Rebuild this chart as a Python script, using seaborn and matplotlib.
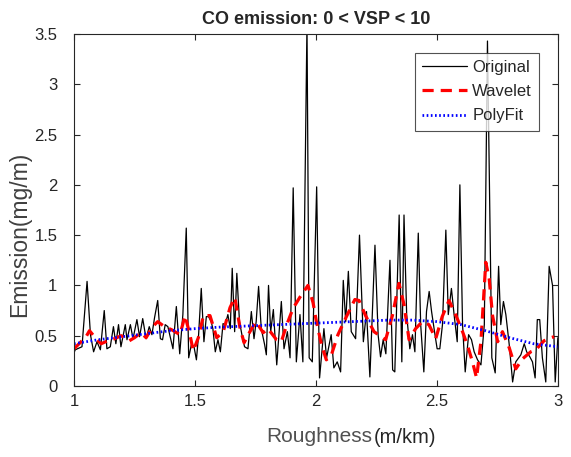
import numpy as np
import pandas as pd
import matplotlib
matplotlib.use("Agg")
import matplotlib.pyplot as plt
import seaborn as sns

# Original (raw) emission vs roughness
rough_x = [1.000, 1.005, 1.033, 1.054, 1.068, 1.081, 1.095, 1.109, 1.125, 1.136, 1.150, 1.163, 1.173,
           1.184, 1.194, 1.212, 1.219, 1.233, 1.244, 1.260, 1.271, 1.284, 1.298, 1.311, 1.322, 1.333,
           1.346, 1.357, 1.366, 1.377, 1.388, 1.409, 1.423, 1.437, 1.450, 1.464, 1.474, 1.485, 1.496,
           1.506, 1.515, 1.526, 1.537, 1.547, 1.556, 1.567, 1.574, 1.584, 1.595, 1.605, 1.616, 1.625,
           1.636, 1.646, 1.654, 1.664, 1.673, 1.684, 1.694, 1.705, 1.719, 1.733, 1.744, 1.753, 1.763,
           1.774, 1.788, 1.795, 1.804, 1.813, 1.824, 1.838, 1.857, 1.868, 1.882, 1.893, 1.906, 1.919,
           1.934, 1.946, 1.963, 1.972, 1.985, 2.003, 2.015, 2.033, 2.044, 2.063, 2.074, 2.088, 2.102,
           2.113, 2.123, 2.134, 2.146, 2.164, 2.180, 2.196, 2.209, 2.223, 2.244, 2.257, 2.267, 2.278,
           2.289, 2.306, 2.317, 2.326, 2.344, 2.355, 2.364, 2.375, 2.388, 2.399, 2.409, 2.423, 2.433,
           2.446, 2.457, 2.468, 2.478, 2.492, 2.501, 2.512, 2.523, 2.537, 2.547, 2.560, 2.571, 2.584,
           2.595, 2.606, 2.617, 2.631, 2.643, 2.654, 2.668, 2.682, 2.696, 2.709, 2.727, 2.741, 2.755,
           2.764, 2.775, 2.785, 2.799, 2.813, 2.826, 2.847, 2.861, 2.871, 2.884, 2.895, 2.906, 2.915,
           2.925, 2.936, 2.950, 2.964, 2.978, 2.989, 3.000]
co_orig = [0.33, 0.36, 0.39, 1.04, 0.51, 0.34, 0.44, 0.36, 0.75, 0.37, 0.39, 0.59, 0.42,
           0.61, 0.39, 0.61, 0.46, 0.61, 0.47, 0.66, 0.49, 0.67, 0.47, 0.59, 0.51, 0.68,
           0.85, 0.47, 0.46, 0.61, 0.59, 0.37, 0.79, 0.32, 0.71, 1.57, 0.28, 0.41, 0.39,
           0.26, 0.51, 0.97, 0.44, 0.69, 0.69, 0.64, 0.57, 0.34, 0.46, 0.34, 0.62, 0.61,
           0.71, 0.57, 1.17, 0.54, 1.12, 0.64, 0.51, 0.39, 0.37, 0.74, 0.47, 0.64, 0.99,
           0.57, 0.41, 0.31, 1.00, 0.54, 0.76, 0.21, 0.84, 0.37, 0.54, 0.28, 1.97, 0.24,
           0.71, 0.24, 3.60, 0.28, 0.24, 1.98, 0.08, 0.57, 0.28, 0.51, 0.18, 0.24, 0.14,
           1.05, 0.64, 1.14, 0.54, 0.47, 1.50, 0.44, 0.74, 0.09, 1.40, 0.51, 0.29, 0.46,
           0.32, 1.25, 0.16, 0.14, 1.70, 0.24, 1.70, 0.71, 0.37, 0.51, 0.34, 1.52, 0.61,
           0.14, 0.74, 0.94, 0.74, 0.51, 0.37, 0.37, 0.61, 1.55, 0.71, 0.97, 0.71, 0.44,
           2.00, 0.61, 0.14, 0.51, 0.46, 0.34, 0.26, 0.21, 0.61, 3.43, 0.28, 0.13, 1.19,
           0.61, 0.84, 0.71, 0.41, 0.04, 0.24, 0.31, 0.42, 0.34, 0.29, 0.24, 0.08, 0.66,
           0.66, 0.28, 0.04, 1.19, 1.00, 0.04, 0.48]

# Wavelet-smoothed curve
wave_x = [1.000, 1.021, 1.050, 1.064, 1.091, 1.112, 1.140, 1.167, 1.195, 1.229, 1.250, 1.277, 1.298,
          1.325, 1.346, 1.374, 1.403, 1.438, 1.459, 1.479, 1.493, 1.514, 1.535, 1.562, 1.590, 1.617,
          1.645, 1.665, 1.686, 1.703, 1.727, 1.752, 1.782, 1.802, 1.837, 1.857, 1.878, 1.905, 1.933,
          1.967, 1.988, 2.002, 2.023, 2.043, 2.064, 2.091, 2.126, 2.161, 2.178, 2.205, 2.240, 2.288,
          2.316, 2.343, 2.364, 2.385, 2.412, 2.440, 2.467, 2.495, 2.522, 2.550, 2.579, 2.606, 2.627,
          2.647, 2.664, 2.682, 2.702, 2.716, 2.730, 2.751, 2.771, 2.799, 2.826, 2.854, 2.888, 2.909,
          2.943, 2.971, 2.985]
co_wave = [0.37, 0.42, 0.49, 0.55, 0.47, 0.42, 0.45, 0.47, 0.50, 0.45, 0.48, 0.53, 0.48,
           0.59, 0.64, 0.59, 0.56, 0.51, 0.70, 0.51, 0.35, 0.48, 0.70, 0.70, 0.48, 0.54,
           0.78, 0.88, 0.58, 0.43, 0.54, 0.64, 0.53, 0.57, 0.46, 0.44, 0.60, 0.77, 0.88,
           1.00, 0.83, 0.64, 0.41, 0.26, 0.31, 0.51, 0.69, 0.86, 0.85, 0.70, 0.54, 0.46,
           0.70, 1.02, 0.81, 0.46, 0.57, 0.64, 0.61, 0.47, 0.69, 0.85, 0.70, 0.54, 0.40,
           0.24, 0.08, 0.44, 1.23, 1.07, 0.70, 0.44, 0.54, 0.38, 0.17, 0.27, 0.34, 0.36,
           0.45, 0.48, 0.49]

# Polynomial fit
poly_x = [1.0, 1.1, 1.2, 1.3, 1.4, 1.5, 1.6, 1.7, 1.8, 1.9, 2.0, 2.1, 2.2, 2.3, 2.4, 2.5, 2.6,
          2.7, 2.8, 2.9, 3.0]
co_poly = [0.42, 0.46, 0.49, 0.52, 0.55, 0.57, 0.585, 0.595, 0.605, 0.615, 0.625, 0.635, 0.645,
           0.655, 0.655, 0.64, 0.61, 0.55, 0.48, 0.42, 0.39]

sns.set_theme(style="white")
plt.rcParams['font.family'] = ['Liberation Sans', 'DejaVu Sans']

fig = plt.figure(figsize=(5.71, 4.57), dpi=100)
ax = fig.add_axes([0.1296, 0.1554, 0.8474, 0.7702])

sns.lineplot(x=rough_x, y=co_orig, ax=ax, color='black', linewidth=0.9,
             sort=False, estimator=None, label='Original')
sns.lineplot(x=wave_x, y=co_wave, ax=ax, color='red', linewidth=2.3,
             sort=False, estimator=None, label='Wavelet')
sns.lineplot(x=poly_x, y=co_poly, ax=ax, color='blue', linewidth=2.0,
             sort=False, estimator=None, label='PolyFit')
ax.lines[1].set_linestyle((0, (3.5, 2.2)))
ax.lines[2].set_linestyle((0, (0.6, 0.9)))

ax.set_xlim(1, 3)
ax.set_ylim(0, 3.5)
ax.set_xticks([1, 1.5, 2, 2.5, 3])
ax.set_xticklabels(['1', '1.5', '2', '2.5', '3'])
ax.set_yticks([0, 0.5, 1, 1.5, 2, 2.5, 3, 3.5])
ax.set_yticklabels(['0', '0.5', '1', '1.5', '2', '2.5', '3', '3.5'])
ax.tick_params(direction='in', length=4, width=0.8, colors='#262626', labelsize=12,
               top=True, right=True, bottom=True, left=True)
ax.tick_params(axis='y', pad=12)
ax.tick_params(axis='x', pad=6)
for s in ax.spines.values():
    s.set_color('#262626')
    s.set_linewidth(0.8)

ax.set_title('CO emission: 0 < VSP < 10', fontsize=13, fontweight='bold', pad=7)
ax.set_ylabel('Emission(mg/m)', fontsize=16.5, color='#404040', labelpad=2)
ax.yaxis.set_label_coords(-0.088, 0.43)
fig.text(0.652, 0.032, 'Roughness', fontsize=15, color='#505050', ha='right', va='baseline')
fig.text(0.655, 0.030, '(m/km)', fontsize=14.5, color='#262626', ha='left', va='baseline')

leg = ax.legend(loc='upper right', bbox_to_anchor=(0.962, 0.947), fontsize=12,
                frameon=True, fancybox=False, edgecolor='#262626', handlelength=2.7,
                handletextpad=0.3, borderpad=0.45, labelspacing=0.55, borderaxespad=0)
leg.get_frame().set_linewidth(0.8)

fig.savefig('out.png', dpi=100)
